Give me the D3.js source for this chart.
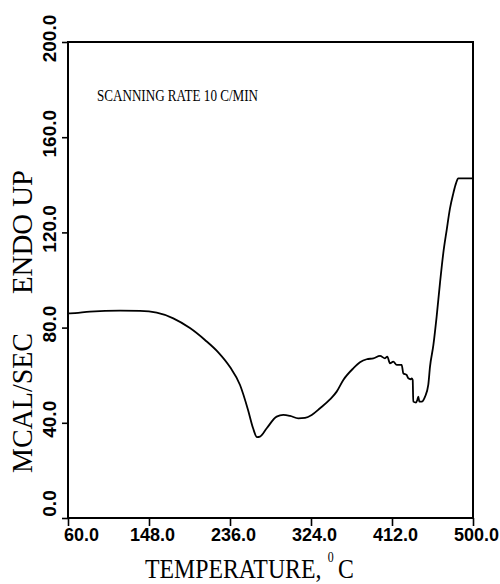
<!DOCTYPE html>
<html>
<head>
<meta charset="utf-8">
<script src="https://cdn.jsdelivr.net/npm/d3@7"></script>
<style>
  html, body { margin: 0; padding: 0; background: #fff; }
  svg { display: block; }
</style>
</head>
<body>
<svg id="chart" width="500" height="584"></svg>
<script>
// Temperature (°C) of each reading
const temperature = [60, 62.2, 83.9, 116.5, 138.2, 156.4, 174.4, 192.5, 208.8, 223.0, 236.0, 246.9, 255.6, 261.0, 265.3,
  268.6, 275.9, 286.7, 293.9, 301.2, 310.2, 317.5, 324.8, 333.8, 344.6, 351.9, 359.1, 370.0, 377.2, 384.5, 391.7,
  399.0, 404.4, 406.9, 409.8, 413.4, 417.1, 422.5, 424.3, 427.9, 429.7, 432.3, 433.4, 434.5, 435.1, 438.1, 439.5,
  440.6, 441.7, 444.3, 447.9, 451.4, 453.3, 456.9, 460.5, 464.1, 467.7, 471.4, 475.0, 478.6, 481.5, 484.0, 500];
// Heat flow (mcal/sec), endo up
const heatFlow = [86.1, 86.0, 86.7, 87.1, 87.0, 86.3, 83.9, 79.8, 74.8, 69.7, 63.4, 55.9, 45.4, 37.8, 34.0,
  34.2, 37.7, 42.6, 43.3, 42.9, 41.9, 42.1, 43.3, 46.1, 49.8, 53.1, 58.0, 62.9, 65.4, 66.7, 67.1,
  68.1, 67.1, 67.8, 65.0, 65.7, 64.3, 64.3, 60.8, 60.1, 58.7, 58.3, 58.7, 58.0, 48.9, 48.5, 49.6,
  51.0, 48.9, 48.9, 51.0, 55.9, 63.6, 72.5, 84.6, 98.6, 111.2, 121.0, 130.1, 136.4, 140.6, 142.7, 142.7];
const xTicks = [60, 148, 236, 324, 412, 500];
const yTicks = [0, 40, 80, 120, 160, 200];
const xTickLabels = ["60.0", "148.0", "236.0", "324.0", "412.0", "500.0"];
const yTickLabels = ["0.0", "40.0", "80.0", "120.0", "160.0", "200.0"];

const svg = d3.select("#chart");
const mLeft = 68, mRight = 473, mTop = 42, mBottom = 518;

const x = d3.scaleLinear().domain([60, 500]).range([mLeft, mRight]);
const y = d3.scaleLinear().domain([0, 200]).range([mBottom, mTop]);

// X axis
const xAxis = d3.axisBottom(x).tickValues(xTicks).tickSize(8).tickSizeOuter(0)
  .tickFormat((d, i) => xTickLabels[i]);
const gx = svg.append("g").attr("transform", `translate(0,${mBottom})`).call(xAxis);
gx.select(".domain").remove();
gx.selectAll(".tick line").attr("stroke", "#000").attr("stroke-width", 1.6);
gx.selectAll(".tick text")
  .attr("fill", "#000")
  .attr("font-family", "'Liberation Sans', Arial, sans-serif")
  .attr("font-weight", "bold")
  .attr("font-size", 18)
  .attr("y", 10)
  .attr("dy", "0.71em")
  .attr("dx", (d, i) => i === 0 ? 13 : 3);

// Y axis
const yAxis = d3.axisLeft(y).tickValues(yTicks).tickSize(6).tickSizeOuter(0)
  .tickFormat((d, i) => yTickLabels[i]);
const gy = svg.append("g").attr("transform", `translate(${mLeft},0)`).call(yAxis);
gy.select(".domain").remove();
gy.selectAll(".tick line").attr("stroke", "#000").attr("stroke-width", 1.6);
gy.selectAll(".tick text")
  .attr("fill", "#000")
  .attr("font-family", "'Liberation Sans', Arial, sans-serif")
  .attr("font-weight", "bold")
  .attr("font-size", 19)
  .attr("x", null).attr("dy", null)
  .attr("text-anchor", "middle")
  .attr("transform", (d, i) => `translate(-12,${i === 0 ? -15 : -4}) rotate(-90)`);

// Frame
svg.append("rect")
  .attr("x", mLeft).attr("y", mTop)
  .attr("width", mRight - mLeft).attr("height", mBottom - mTop)
  .attr("fill", "none").attr("stroke", "#000").attr("stroke-width", 2);

// Curve
const pts = temperature.map((t, i) => [t, heatFlow[i]]);
const line = d3.line().x(d => x(d[0])).y(d => y(d[1])).curve(d3.curveMonotoneX);
svg.append("path").datum(pts)
  .attr("d", line)
  .attr("fill", "none").attr("stroke", "#000").attr("stroke-width", 1.8)
  .attr("stroke-linejoin", "round");

// Annotation
const serif = "'Liberation Serif', 'Times New Roman', serif";
svg.append("text")
  .attr("x", 97).attr("y", 101)
  .attr("font-family", serif)
  .attr("font-size", 17)
  .attr("textLength", 161).attr("lengthAdjust", "spacingAndGlyphs")
  .text("SCANNING RATE 10 C/MIN");

// X title (condensed via horizontal scale)
const xtg = svg.append("g").attr("transform", "translate(145,578) scale(0.85,1)")
  .attr("font-family", serif).attr("fill", "#000");
xtg.append("text").attr("x", 0).attr("y", 0).attr("font-size", 28).text("TEMPERATURE,");
xtg.append("text").attr("x", 215).attr("y", -16).attr("font-size", 14).text("0");
xtg.append("text").attr("x", 227).attr("y", 0).attr("font-size", 28).text("C");

// Y title
svg.append("text")
  .attr("transform", "translate(32,473) rotate(-90)")
  .attr("font-family", serif).attr("font-size", 30)
  .attr("textLength", 140).attr("lengthAdjust", "spacingAndGlyphs")
  .text("MCAL/SEC");
svg.append("text")
  .attr("transform", "translate(32,294) rotate(-90)")
  .attr("font-family", serif).attr("font-size", 30)
  .attr("textLength", 124).attr("lengthAdjust", "spacingAndGlyphs")
  .text("ENDO UP");
</script>
</body>
</html>
